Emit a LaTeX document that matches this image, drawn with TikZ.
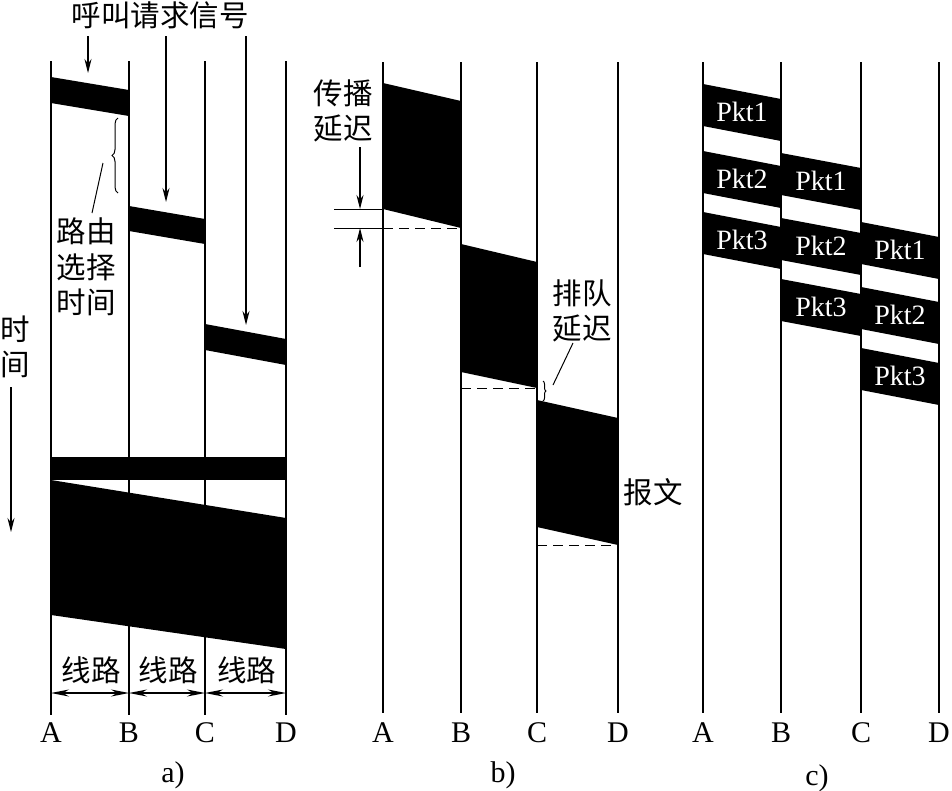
\documentclass[tikz,border=0pt]{standalone}
\usepackage{fontspec}
\setmainfont{Liberation Serif}
\newfontfamily\cjk{Noto Sans CJK SC}
\usetikzlibrary{arrows.meta,decorations.pathreplacing}
\begin{document}
\begin{tikzpicture}[x=1pt,y=-1pt,
  axis/.style={line width=1.2pt},
  cn/.style={font=\cjk\fontsize{29.5}{35.5}\selectfont, inner sep=0pt, align=center},
  lt/.style={font=\fontsize{30}{32}\selectfont, inner sep=0pt},
  pk/.style={font=\fontsize{28}{30}\selectfont, text=white, inner sep=0pt},
  arr/.style={line width=1.2pt, -{Stealth[length=14pt,width=7pt]}},
  dim/.style={line width=1.1pt, {Stealth[length=18pt,width=7pt]}-{Stealth[length=18pt,width=7pt]}},
  dsh/.style={line width=1pt, dash pattern=on 10pt off 6pt},
  thin/.style={line width=1pt},
]
\useasboundingbox (0,0) rectangle (952,790);

% ---------- panel a ----------
\fill (51,77) -- (129,90) -- (129,116) -- (51,103) -- cycle;
\fill (129,206) -- (205,219) -- (205,244) -- (129,231) -- cycle;
\fill (205,324) -- (286,339) -- (286,365) -- (205,350) -- cycle;
\fill (51,457) rectangle (286,480);
\fill (51,480) -- (286,518) -- (286,649) -- (51,615) -- cycle;
\foreach \x/\n in {51/A,129/B,205/C,286/D}{
  \draw[axis] (\x,61) -- (\x,715);
  \node[lt] (a\n) at (\x,733) {\n};
}
\node[cn] (title) at (160,15) {呼叫请求信号};
\coordinate (s1) at (88,36);  \coordinate (e1) at (88,73);
\coordinate (s2) at (166,36); \coordinate (e2) at (166,202);
\coordinate (s3) at (246,36); \coordinate (e3) at (246,325);
\draw[arr] (s1) -- (e1);
\draw[arr] (s2) -- (e2);
\draw[arr] (s3) -- (e3);
\draw[thin, decorate, decoration={brace,amplitude=6pt}] (118,193) -- (118,118);
\node[cn] (route) at (86,267) {路由\\选择\\时间};
\coordinate (r1) at (103,163); \coordinate (r2) at (92,213);
\draw[thin] (r1) -- (r2);
\node[cn] (time) at (15.5,347) {时\\间};
\coordinate (t1) at (11,387); \coordinate (t2) at (11,532);
\draw[arr] (t1) -- (t2);
\foreach \xa/\xb/\i in {51/129/1,129/205/2,205/286/3}{
  \draw[dim] (\xa,693) -- (\xb,693);
  \node[cn] (line\i) at ({(\xa+\xb)/2+1},670) {线路};
}
\node[lt] (capa) at (173,775) {a)};

% ---------- panel b ----------
\fill (383,83) -- (461,101) -- (461,228) -- (383,209) -- cycle;
\fill (461,244) -- (537,262) -- (537,388) -- (461,372) -- cycle;
\fill (537,400) -- (618,418) -- (618,545) -- (537,527) -- cycle;
\foreach \x/\n in {383/A,461/B,537/C,618/D}{
  \draw[axis] (\x,62) -- (\x,713);
  \node[lt] (b\n) at (\x,733) {\n};
}
\draw[dsh] (383,228) -- (461,228);
\draw[dsh] (461,388) -- (537,388);
\draw[dsh] (537,545) -- (618,545);
\draw[thin] (334,209) -- (383,209);
\draw[thin] (334,228) -- (383,228);
\coordinate (p1) at (360,147); \coordinate (p2) at (360,209);
\coordinate (p3) at (360,267); \coordinate (p4) at (360,228);
\draw[arr] (p1) -- (p2);
\draw[arr] (p3) -- (p4);
\node[cn] (prop) at (343,111) {传播\\延迟};
\node[cn] (queue) at (582,311) {排队\\延迟};
\coordinate (q1) at (573,343); \coordinate (q2) at (553,385);
\draw[thin] (q1) -- (q2);
\draw[thin, decorate, decoration={brace,amplitude=3pt}] (543,381) -- (543,401);
\node[cn] (msg) at (653,492) {报文};
\node[lt] (capb) at (503,775) {b)};

% ---------- panel c ----------
\foreach \xl/\xr/\y in {703/781/84, 703/781/151, 703/781/212,
                        781/861/153, 781/861/218, 781/861/279,
                        861/939/222, 861/939/287, 861/939/348}{
  \fill (\xl,\y) -- (\xr,\y+15) -- (\xr,\y+57) -- (\xl,\y+42) -- cycle;
}
\foreach \x/\n in {703/A,781/B,861/C,939/D}{
  \draw[axis] (\x,62) -- (\x,713);
  \node[lt] (c\n) at (\x,733) {\n};
}
\foreach \xl/\xr/\y/\t/\k in {703/781/84/Pkt1/1, 703/781/151/Pkt2/2, 703/781/212/Pkt3/3,
                           781/861/153/Pkt1/4, 781/861/218/Pkt2/5, 781/861/279/Pkt3/6,
                           861/939/222/Pkt1/7, 861/939/287/Pkt2/8, 861/939/348/Pkt3/9}{
  \node[pk] (pkt\k) at ({(\xl+\xr)/2},\y+28) {\t};
}
\node[lt] (capc) at (817,778) {c)};
\end{tikzpicture}
\end{document}
